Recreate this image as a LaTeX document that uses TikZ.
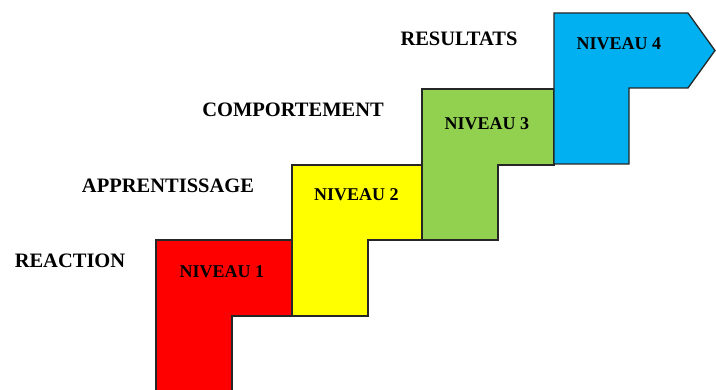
\documentclass[tikz,border=0pt]{standalone}
\usepackage{fontspec}
\setmainfont{Liberation Serif}
\definecolor{lvred}{HTML}{FF0000}
\definecolor{lvyellow}{HTML}{FFFF00}
\definecolor{lvgreen}{HTML}{92D050}
\definecolor{lvblue}{HTML}{00B0F0}
\begin{document}
\begin{tikzpicture}[x=1pt,y=-1pt,
  stepshape/.style={draw=black!85, line width=1.3pt, line join=miter},
  lvtext/.style={font=\bfseries\fontsize{18}{21}\selectfont, inner sep=0pt, text depth=0pt},
  sidetext/.style={font=\bfseries\fontsize{20.5}{24}\selectfont, inner sep=0pt, text depth=0pt}]
\useasboundingbox[fill=white] (0,0) rectangle (716,390);
\begin{scope}
\clip (0,0) rectangle (716,390);
\fill[lvred, stepshape] (156,240) -- (292,240) -- (292,316) -- (232,316) -- (232,395) -- (156,395) -- cycle;
\fill[lvyellow, stepshape] (292,165) -- (423,165) -- (423,240) -- (368,240) -- (368,316) -- (292,316) -- cycle;
\fill[lvgreen, stepshape] (422,89) -- (554,89) -- (554,165) -- (498,165) -- (498,240) -- (422,240) -- cycle;
\fill[lvblue, stepshape] (554,13) -- (688,13) -- (715,50.5) -- (688,88) -- (629,88) -- (629,164) -- (554,164) -- cycle;
\end{scope}
\node[lvtext] (n1) at (222,272) {NIVEAU 1};
\node[lvtext] (n2) at (356.5,195) {NIVEAU 2};
\node[lvtext] (n3) at (487,124) {NIVEAU 3};
\node[lvtext] (n4) at (619,44) {NIVEAU 4};
\node[sidetext] (l1) at (70,261) {REACTION};
\node[sidetext] (l2) at (168,186) {APPRENTISSAGE};
\node[sidetext] (l3) at (293,110) {COMPORTEMENT};
\node[sidetext] (l4) at (459,39) {RESULTATS};
\end{tikzpicture}
\end{document}
